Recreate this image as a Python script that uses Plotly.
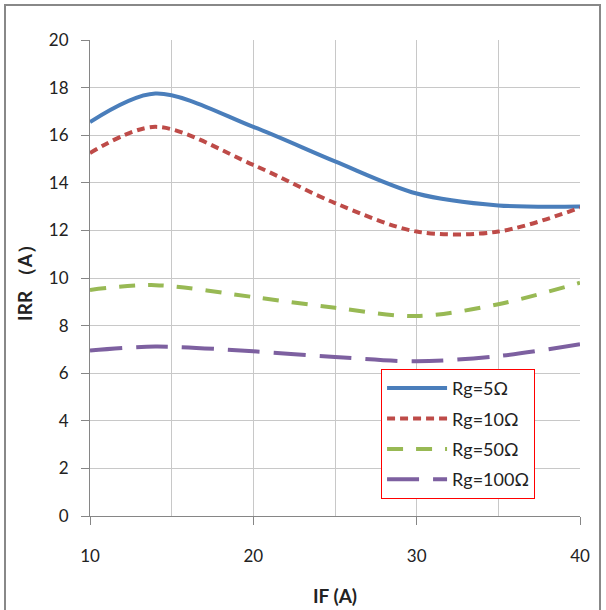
import plotly.graph_objects as go

IF = [10, 14, 20, 25, 30, 35, 40]
rg5 = [16.55, 17.75, 16.35, 14.9, 13.55, 13.05, 13.0]
rg10 = [15.25, 16.35, 14.75, 13.15, 11.95, 11.95, 12.95]
rg50 = [9.5, 9.7, 9.2, 8.75, 8.4, 8.9, 9.8]
rg100 = [6.95, 7.12, 6.92, 6.68, 6.5, 6.72, 7.22]

names = ["Rg=5Ω", "Rg=10Ω", "Rg=50Ω", "Rg=100Ω"]
colors = ["#4a7ebb", "#be4b48", "#98b954", "#7d60a0"]
dashes = ["solid", "8px,5px", "16px,13px", "32px,14px"]
series = [rg5, rg10, rg50, rg100]

fig = go.Figure()
for i, (n, c, d, s) in enumerate(zip(names, colors, dashes, series)):
    fig.add_trace(go.Scatter(x=IF, y=s, name=n, mode="lines", legendgroup=f"g{i}",
                             line=dict(color=c, width=4, dash=d, shape="spline", smoothing=0.9)))

font = "Lato, 'Open Sans', sans-serif"
fig.update_layout(
    width=606, height=610,
    margin=dict(l=90, r=26, t=40, b=94),
    paper_bgcolor="white", plot_bgcolor="white",
    font=dict(family=font, size=17, color="#222"),
    showlegend=True,
    legend=dict(x=0.594, y=0.309, xanchor="left", yanchor="top",
                bordercolor="#ff0000", borderwidth=1, bgcolor="white",
                font=dict(size=18, color="#222"), itemwidth=60, tracegroupgap=4),
    xaxis=dict(range=[10, 40], dtick=10, tick0=10, showgrid=True, gridcolor="#c8c8c8", gridwidth=1,
               minor=dict(dtick=5, showgrid=True, gridcolor="#c8c8c8"),
               showline=True, linecolor="#868686", linewidth=1, automargin=False,
               ticks="outside", ticklen=8, tickcolor="#868686",
               ticklabelstandoff=17, zeroline=False,
               title=dict(text="<b>IF (A)</b>", font=dict(size=19), standoff=24)),
    yaxis=dict(range=[0, 20], dtick=2, showgrid=True, gridcolor="#c8c8c8",
               showline=True, linecolor="#868686", linewidth=1, automargin=False,
               ticks="outside", ticklen=8, tickcolor="#868686",
               ticklabelstandoff=9, zeroline=False,
               title=dict(text="<b>IRR （A）</b>", font=dict(size=19), standoff=11)),
)
fig.add_shape(type="rect", xref="paper", yref="paper",
              x0=(5 - 90) / 490, x1=(600 - 90) / 490, y0=(516 - 612) / 476, y1=(516 - 5) / 476,
              line=dict(color="#888888", width=2), fillcolor="rgba(0,0,0,0)", layer="below")
fig.write_html("out.html")
